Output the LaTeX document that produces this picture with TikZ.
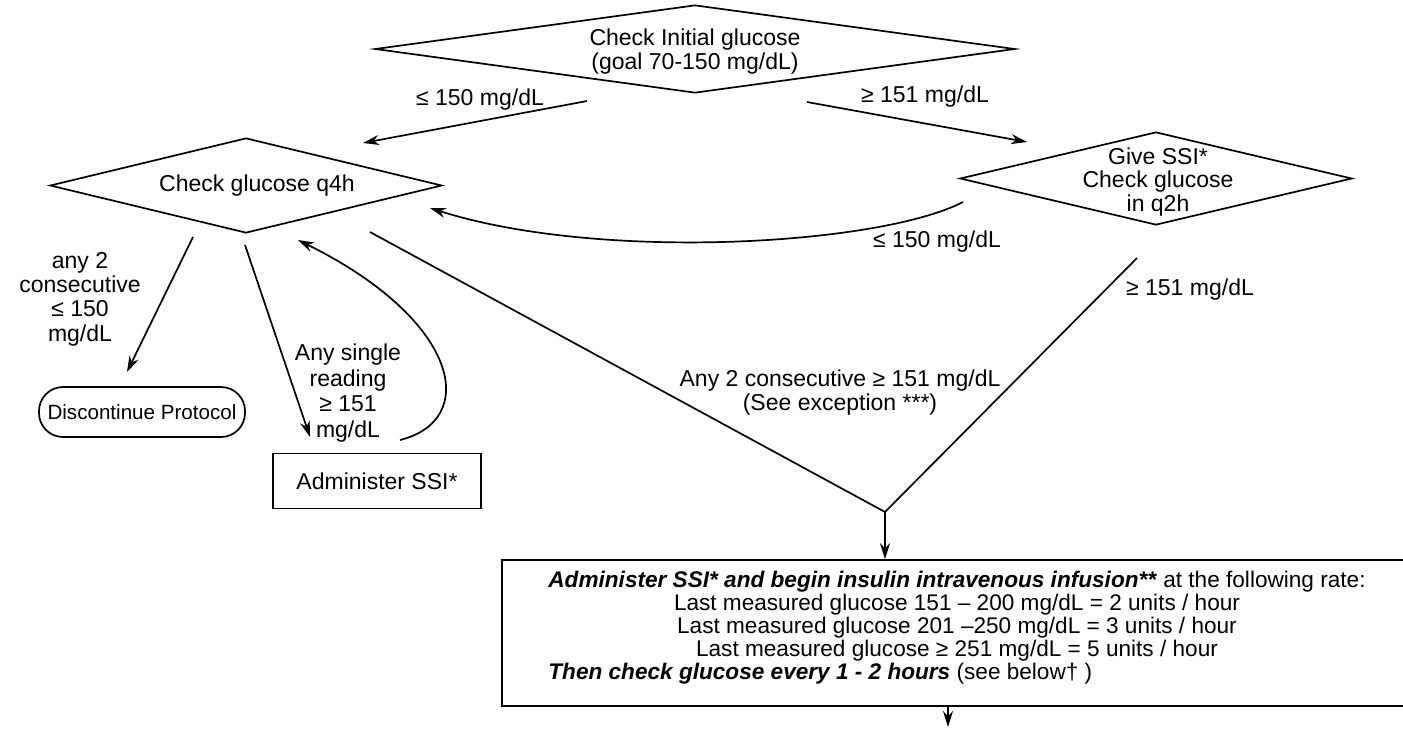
\documentclass[tikz,border=0pt]{standalone}
\usepackage{fontspec}
\setmainfont{Liberation Sans}
\usetikzlibrary{shapes.geometric,arrows.meta}

\tikzset{
  flow/.style={line width=0.85pt},
  arr/.style={flow,-{Stealth[length=8pt,width=5pt]}},
  decision/.style={draw,flow,shape=diamond,inner sep=0pt},
  txt/.style={align=center,inner sep=0pt,font=\fontsize{11.5}{12}\selectfont},
}

\begin{document}
\begin{tikzpicture}[x=0.5pt,y=-0.5pt]
\useasboundingbox (0,0) rectangle (1403,729);
% decisions
\node[decision, minimum width=320pt, minimum height=44pt] (init) at (695,49) {};
\node[txt] at (695,52) {Check Initial glucose\\(goal 70-150 mg/dL)};
\node[decision, minimum width=196pt, minimum height=47.5pt] (q4h) at (246,185.5) {};
\node[txt] at (257,186) {Check glucose q4h};
\node[decision, minimum width=196pt, minimum height=46.5pt] (q2h) at (1156,178.5) {};
\node[txt, font=\fontsize{11.5}{11.75}\selectfont] at (1158,182) {Give SSI*\\Check glucose\\in q2h};
% end boxes
\node[draw, flow, rounded corners=12pt, minimum width=103pt, minimum height=25pt,
      inner sep=1pt, font=\fontsize{10.3}{12}\selectfont] (stop) at (142,412) {Discontinue Protocol};
\node[draw, flow, minimum width=104pt, minimum height=27.5pt,
      font=\fontsize{11.5}{12}\selectfont] (ssi) at (377,481) {Administer SSI*};
\node[draw, flow, minimum width=455pt, minimum height=73pt] (drip) at (957,633) {};
\node[inner sep=0pt, anchor=north, font=\fontsize{11.3}{10.9}\selectfont]
  at ([yshift=-6pt]drip.north) {%
  \begin{tabular}{@{}l@{}}
  \textbf{\textit{Administer SSI* and begin insulin intravenous infusion**}} at the following rate:\\
  \multicolumn{1}{@{}c@{}}{Last measured glucose 151 – 200 mg/dL = 2 units / hour}\\
  \multicolumn{1}{@{}c@{}}{Last measured glucose 201 –250 mg/dL = 3 units / hour}\\
  \multicolumn{1}{@{}c@{}}{Last measured glucose ≥ 251 mg/dL = 5 units / hour}\\
  \textbf{\textit{Then check glucose every 1 - 2 hours}} (see below† )
  \end{tabular}};
% free ends
\coordinate (initL) at (587,101);
\coordinate (initR) at (807,102);
\coordinate (q4hT) at (363,143);
\coordinate (q2hT) at (1027,142);
\coordinate (q2hL) at (963,202);
\coordinate (q4hR) at (430,208);
\coordinate (q4hA) at (193,237);
\coordinate (q4hB) at (245,245);
\coordinate (q4hC) at (298,240);
\coordinate (q4hD) at (370,232);
\coordinate (q2hB) at (1137,258);
\coordinate (stopT) at (127,372);
\coordinate (ssiT) at (310,437);
\coordinate (ssiR) at (400,440);
\coordinate (v) at (885,512);
\coordinate (out) at (948,727);
% connectors
\draw[arr] (initL) -- (q4hT);
\node[txt] at (480,100) {≤ 150 mg/dL};
\draw[arr] (initR) -- (q2hT);
\node[txt] at (925,97) {≥ 151 mg/dL};
\draw[arr] (q2hL) .. controls (880,245) and (600,262) .. (q4hR);
\node[txt] at (937,242) {≤ 150 mg/dL};
\draw[arr] (q4hA) -- (stopT);
\node[txt, font=\fontsize{11.5}{12.2}\selectfont] at (80,299) {any 2\\consecutive\\≤ 150\\mg/dL};
\draw[arr] (q4hB) -- (ssiT);
\draw[arr] (ssiR) .. controls (480,420) and (460,320) .. (q4hC);
\node[txt, font=\fontsize{11.5}{12.8}\selectfont] at (348,393) {Any single\\reading\\≥ 151\\mg/dL};
\draw[flow] (q4hD) -- (v) -- (q2hB);
\node[txt] at (840,393) {Any 2 consecutive ≥ 151 mg/dL\\(See exception ***)};
\node[txt] at (1190,290) {≥ 151 mg/dL};
\draw[arr] (v) -- (v |- drip.north);
\draw[arr] (out |- drip.south) -- (out);
\end{tikzpicture}
\end{document}
